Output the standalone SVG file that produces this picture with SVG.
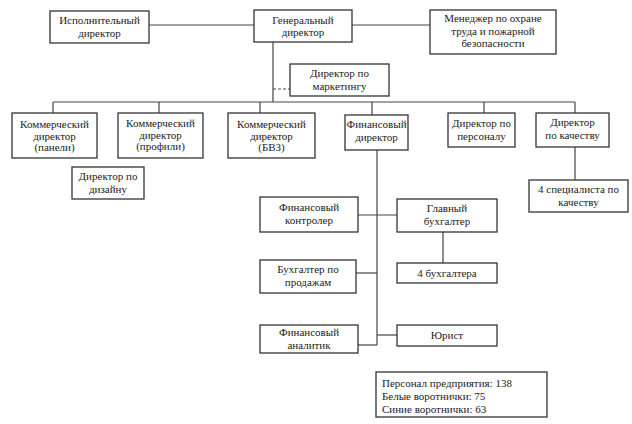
<svg xmlns="http://www.w3.org/2000/svg" width="632" height="424" viewBox="0 0 632 424" font-family="Liberation Serif, serif">
<style>
.b{fill:#fff;stroke:#333;stroke-width:1.3}
.t{font-size:11px;fill:#222;text-anchor:middle}
.l{font-size:11px;fill:#222}
.c{stroke:#444;stroke-width:1.2;fill:none}
</style>
<rect width="632" height="424" fill="#fff"/>
<g id="connectors">
<line class="c" x1="149" y1="25" x2="254" y2="25"/>
<line class="c" x1="352" y1="25" x2="430" y2="25"/>
<line class="c" x1="273" y1="42" x2="273" y2="102"/>
<line class="c" x1="273" y1="89" x2="290" y2="89" stroke-dasharray="3,2"/>
<line class="c" x1="53" y1="102" x2="575" y2="102"/>
<line class="c" x1="53" y1="102" x2="53" y2="113"/>
<line class="c" x1="159" y1="102" x2="159" y2="113"/>
<line class="c" x1="260" y1="102" x2="260" y2="113"/>
<line class="c" x1="372" y1="102" x2="372" y2="115"/>
<line class="c" x1="484" y1="102" x2="484" y2="113"/>
<line class="c" x1="575" y1="102" x2="575" y2="113"/>
<line class="c" x1="575" y1="147" x2="575" y2="180"/>
<line class="c" x1="377" y1="150" x2="377" y2="345"/>
<line class="c" x1="358" y1="215" x2="397" y2="215"/>
<line class="c" x1="443" y1="232" x2="443" y2="263"/>
<line class="c" x1="356" y1="273" x2="377" y2="273" stroke="#777"/>
<line class="c" x1="358" y1="345" x2="377" y2="345"/>
<line class="c" x1="377" y1="335" x2="397" y2="335"/>
</g>
<g id="n-ispoln"><rect class="b" x="50" y="11" width="99" height="32" stroke-width="2"/><text class="t" x="99.5" y="24">Исполнительный</text><text class="t" x="99.5" y="37">директор</text></g>
<g id="n-gen"><rect class="b" x="254" y="10" width="98" height="32"/><text class="t" x="303" y="24">Генеральный</text><text class="t" x="303" y="36">директор</text></g>
<g id="n-manager"><rect class="b" x="430" y="10" width="126" height="44"/><text class="t" x="493" y="22">Менеджер по охране</text><text class="t" x="493" y="35">труда и пожарной</text><text class="t" x="493" y="47">безопасности</text></g>
<g id="n-marketing"><rect class="b" x="290" y="64" width="99" height="32"/><text class="t" x="339.5" y="77">Директор по</text><text class="t" x="339.5" y="90">маркетингу</text></g>
<g id="n-kom1"><rect class="b" x="12" y="113" width="85" height="45" stroke-width="2"/><text class="t" x="54.5" y="128">Коммерческий</text><text class="t" x="54.5" y="139.5">директор</text><text class="t" x="54.5" y="151">(панели)</text></g>
<g id="n-kom2"><rect class="b" x="118" y="113" width="85" height="45" stroke-width="2"/><text class="t" x="160.5" y="127">Коммерческий</text><text class="t" x="160.5" y="138.5">директор</text><text class="t" x="160.5" y="150">(профили)</text></g>
<g id="n-kom3"><rect class="b" x="228" y="113" width="87" height="45" stroke-width="2"/><text class="t" x="271.5" y="128">Коммерческий</text><text class="t" x="271.5" y="139.5">директор</text><text class="t" x="271.5" y="151">(БВЗ)</text></g>
<g id="n-fin"><rect class="b" x="345" y="115" width="63" height="35" stroke-width="1.6"/><text class="t" x="376.5" y="128">Финансовый</text><text class="t" x="376.5" y="141">директор</text></g>
<g id="n-pers"><rect class="b" x="448" y="113" width="67" height="34"/><text class="t" x="481.5" y="127">Директор по</text><text class="t" x="481.5" y="140">персоналу</text></g>
<g id="n-kach"><rect class="b" x="536" y="113" width="73" height="34"/><text class="t" x="572.5" y="126">Директор</text><text class="t" x="572.5" y="139">по качеству</text></g>
<g id="n-dizain"><rect class="b" x="72" y="167" width="72" height="32"/><text class="t" x="108" y="180">Директор по</text><text class="t" x="108" y="193">дизайну</text></g>
<g id="n-spec"><rect class="b" x="529" y="180" width="99" height="32"/><text class="t" x="578.5" y="193">4 специалиста по</text><text class="t" x="578.5" y="206">качеству</text></g>
<g id="n-kontr"><rect class="b" x="260" y="197" width="98" height="35" stroke-width="1.6"/><text class="t" x="309" y="211">Финансовый</text><text class="t" x="309" y="224">контролер</text></g>
<g id="n-glbuh"><rect class="b" x="397" y="199" width="100" height="33"/><text class="t" x="447" y="212">Главный</text><text class="t" x="447" y="225">бухгалтер</text></g>
<g id="n-4buh"><rect class="b" x="397" y="263" width="100" height="20"/><text class="t" x="447" y="277">4 бухгалтера</text></g>
<g id="n-prod"><rect class="b" x="260" y="260" width="96" height="33" stroke-width="1.6"/><text class="t" x="308" y="273">Бухгалтер по</text><text class="t" x="308" y="286">продажам</text></g>
<g id="n-anal"><rect class="b" x="260" y="325" width="98" height="28" stroke-width="1.6"/><text class="t" x="309" y="336">Финансовый</text><text class="t" x="309" y="349">аналитик</text></g>
<g id="n-yurist"><rect class="b" x="397" y="325" width="100" height="21"/><text class="t" x="447" y="339">Юрист</text></g>
<g id="n-stats"><rect class="b" x="376" y="372" width="171" height="45"/><text class="l" x="382" y="387">Персонал предприятия: 138</text><text class="l" x="382" y="400">Белые воротнички: 75</text><text class="l" x="382" y="413">Синие воротнички: 63</text></g>
</svg>
